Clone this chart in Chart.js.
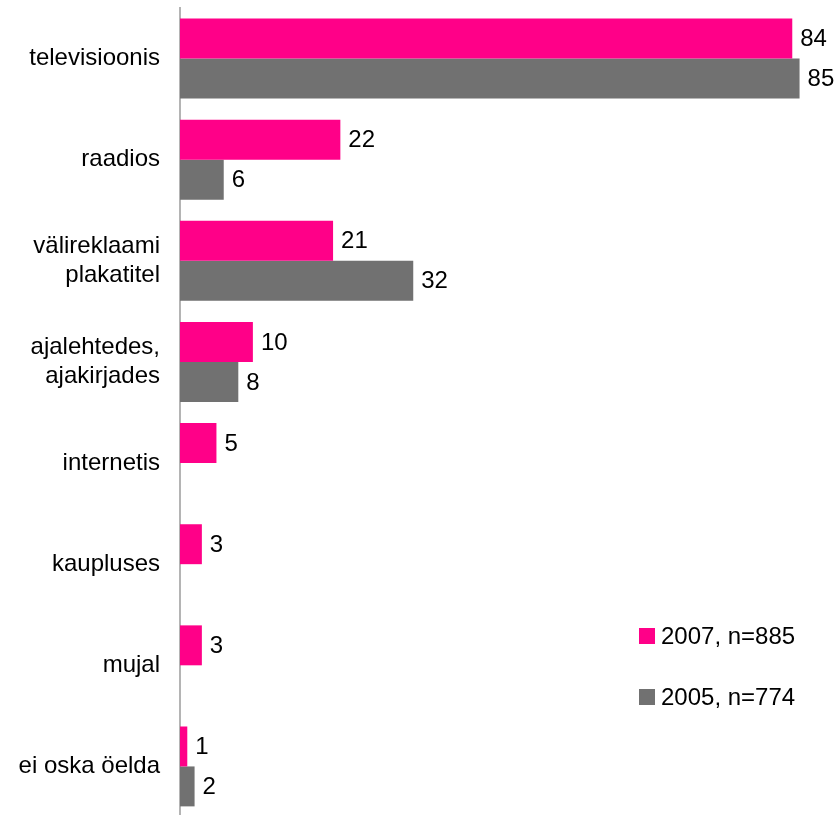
<!DOCTYPE html>
<html>
<head>
<meta charset="utf-8">
<script src="https://cdn.jsdelivr.net/npm/chart.js@4"></script>
<style>
  body { margin: 0; background: #fff; overflow: hidden; }
</style>
</head>
<body>
<canvas id="myChart" width="840" height="817"></canvas>
<script>
// kust on teavet saadud, %
const kategooriad = [
    ['televisioonis'],
    ['raadios'],
    ['välireklaami', 'plakatitel'],
    ['ajalehtedes,', 'ajakirjades'],
    ['internetis'],
    ['kaupluses'],
    ['mujal'],
    ['ei oska öelda']
];
const aasta2007 = [84, 22, 21, 10, 5, 3, 3, 1];
const aasta2005 = [85, 6, 32, 8, null, null, null, 2];

const roosa = 'rgb(255, 0, 136)';
const hall = 'rgb(113, 113, 113)';
const kiri = "24px 'Liberation Sans', Arial, sans-serif";

// numbrid tulpade otsa
const vaartused = {
    id: 'vaartused',
    afterDatasetsDraw(chart) {
        const ctx = chart.ctx;
        ctx.save();
        ctx.font = kiri;
        ctx.fillStyle = '#000';
        ctx.textAlign = 'left';
        ctx.textBaseline = 'middle';
        chart.data.datasets.forEach(function(ds, i) {
            chart.getDatasetMeta(i).data.forEach(function(bar, j) {
                if (ds.data[j] == null) return;
                ctx.fillText(ds.data[j], bar.x + 8, bar.y + 1);
            });
        });
        ctx.restore();
    }
};

// legend paremal all
const legend = {
    id: 'legendParemal',
    afterDraw(chart) {
        const ctx = chart.ctx;
        const x = 639;
        const ridaY = [636, 697];
        ctx.save();
        ctx.font = kiri;
        ctx.textBaseline = 'middle';
        chart.data.datasets.forEach(function(ds, i) {
            ctx.fillStyle = ds.backgroundColor;
            ctx.fillRect(x, ridaY[i] - 8, 16, 16);
            ctx.fillStyle = '#000';
            ctx.fillText(ds.label, x + 22, ridaY[i] + 1);
        });
        ctx.restore();
    }
};

const data = {
    labels: kategooriad,
    datasets: [{
        label: '2007, n=885',
        backgroundColor: roosa,
        data: aasta2007
    }, {
        label: '2005, n=774',
        backgroundColor: hall,
        data: aasta2005
    }]
};

const config = {
    type: 'bar',
    data: data,
    options: {
        indexAxis: 'y',
        responsive: false,
        animation: false,
        layout: { padding: { top: 8, right: 4, bottom: 0, left: 0 } },
        datasets: {
            bar: { categoryPercentage: 0.79, barPercentage: 1.0 }
        },
        plugins: {
            legend: { display: false },
            tooltip: { enabled: false }
        },
        scales: {
            x: {
                display: false,
                min: 0,
                max: 90
            },
            y: {
                // telg kohe 180 px juures, siltide kõrgus ei tohi ala kokku suruda
                afterFit(scale) {
                    scale.width = 180;
                    scale.paddingTop = 0;
                    scale.paddingBottom = 0;
                },
                grid: { display: false, drawTicks: false },
                border: { display: true, color: '#b4b4b4', width: 2 },
                ticks: {
                    color: '#000',
                    padding: 20,
                    font: { family: "'Liberation Sans', Arial, sans-serif", size: 24, lineHeight: 1.2 }
                }
            }
        }
    },
    plugins: [vaartused, legend]
};

const myChart = new Chart(document.getElementById('myChart'), config);
</script>
</body>
</html>
